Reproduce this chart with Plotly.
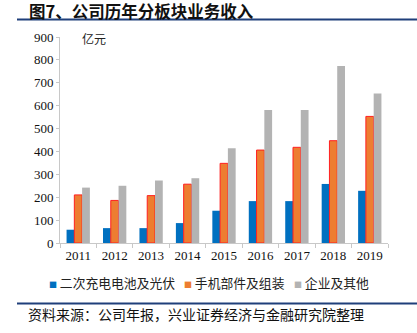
import plotly.graph_objects as go

years = ["2011", "2012", "2013", "2014", "2015", "2016", "2017", "2018", "2019"]
battery = [58, 65, 65, 87, 141, 183, 183, 258, 228]
phone = [210, 186, 207, 257, 348, 406, 418, 447, 553]
other = [242, 250, 273, 283, 414, 581, 581, 773, 653]
names = ["二次充电电池及光伏", "手机部件及组装", "企业及其他"]
colors = ["#0070C0", "#ED7D31", "#B3B3B3"]

L, R, T, B = 60, 29, 37, 90
W, H = 417, 333
pw, ph = W - L - R, H - T - B

def px(x):
    return (x - L) / pw

def py(y):
    return (H - B - y) / ph

fig = go.Figure()
fig.add_trace(go.Bar(x=years, y=battery, name=names[0],
                     marker=dict(color=colors[0], line=dict(width=0))))
fig.add_trace(go.Bar(x=years, y=phone, name=names[1],
                     marker=dict(color=colors[1], line=dict(color="#FF1F1F", width=1))))
fig.add_trace(go.Bar(x=years, y=other, name=names[2],
                     marker=dict(color=colors[2], line=dict(width=0))))

cjk = "Noto Sans CJK SC"
serif = "Liberation Serif"

legend_x = [47, 182, 292]
annotations = [
    dict(text="<b>图7、公司历年分板块业务收入</b>", xref="paper", yref="paper",
         x=px(27), y=py(11.5), xanchor="left", yanchor="middle", showarrow=False,
         font=dict(family=cjk, size=16.5, color="#111111")),
    dict(text="亿元", xref="paper", yref="paper", x=px(80), y=py(38), xanchor="left",
         yanchor="middle", showarrow=False, font=dict(family=cjk, size=12, color="#222222")),
    dict(text="资料来源：公司年报，兴业证券经济与金融研究院整理", xref="paper", yref="paper",
         x=px(26), y=py(314), xanchor="left", yanchor="middle", showarrow=False,
         font=dict(family=cjk, size=14, color="#111111")),
]
for name, c, lx in zip(names, colors, legend_x):
    annotations.append(dict(
        text=f"<span style='font-size:8px;color:{c}'>■</span> {name}",
        xref="paper", yref="paper", x=px(lx), y=py(282), xanchor="left", yanchor="middle",
        showarrow=False, font=dict(family=cjk, size=12.8, color="#222222")))

fig.update_layout(
    width=W, height=H,
    margin=dict(l=L, r=R, t=T, b=B),
    paper_bgcolor="white", plot_bgcolor="white",
    barmode="group", bargap=0.36, bargroupgap=0,
    showlegend=False,
    xaxis=dict(showline=True, linecolor="#C8C8C8", linewidth=1, ticks="outside",
               tickson="boundaries", ticklen=4, tickcolor="#C8C8C8",
               tickfont=dict(family=serif, size=13, color="#111111"), showgrid=False),
    yaxis=dict(range=[0, 900], dtick=100, showline=True, linecolor="#C8C8C8", linewidth=1,
               ticks="outside", ticklen=3, tickcolor="#C8C8C8", showgrid=False, zeroline=False,
               tickfont=dict(family=serif, size=13, color="#111111")),
    shapes=[
        dict(type="line", xref="paper", yref="paper", x0=px(17), x1=px(417),
             y0=py(19.5), y1=py(19.5), line=dict(color="#1F3F7A", width=2)),
        dict(type="line", xref="paper", yref="paper", x0=px(17), x1=px(417),
             y0=py(303.5), y1=py(303.5), line=dict(color="#1F3F7A", width=2)),
    ],
    annotations=annotations,
)

fig.write_html("out.html")
